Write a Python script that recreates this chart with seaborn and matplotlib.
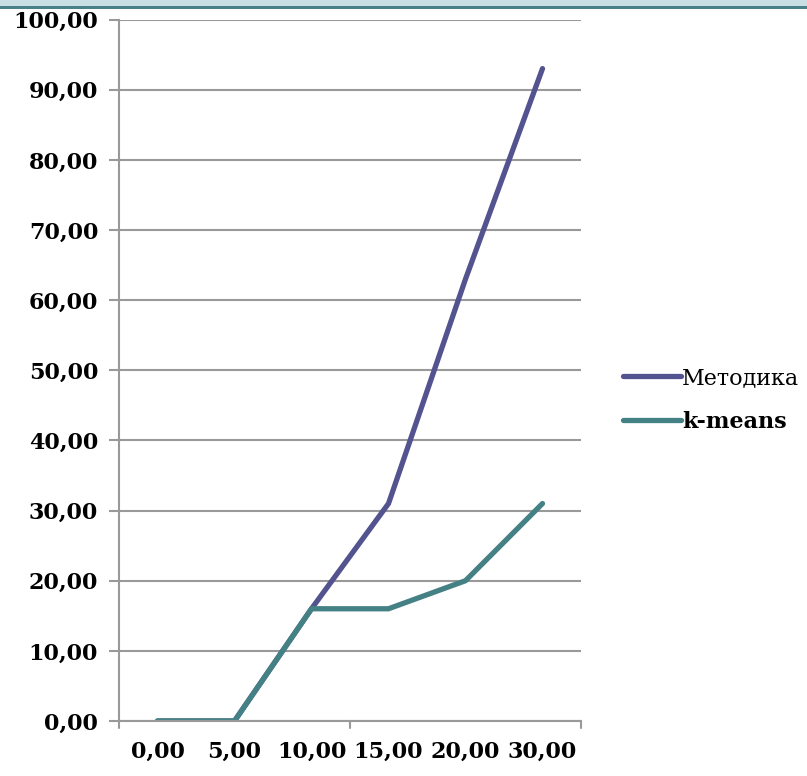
import matplotlib
matplotlib.use('Agg')
import matplotlib.pyplot as plt
import seaborn as sns
import pandas as pd
import numpy as np

# data
categories = ["0,00", "5,00", "10,00", "15,00", "20,00", "30,00"]
metodika = [0, 0, 16, 31, 63, 93]
kmeans = [0, 0, 16, 16, 20, 31]
series_names = ["Методика", "k-means"]
y_ticks = [0, 10, 20, 30, 40, 50, 60, 70, 80, 90, 100]

colors = ["#53548f", "#448185"]

df = pd.DataFrame({"x": np.arange(len(categories)), series_names[0]: metodika, series_names[1]: kmeans})
long = df.melt(id_vars="x", var_name="series", value_name="value")

sns.set_theme(style='white')
plt.rcParams['font.family'] = ['DejaVu Serif']
plt.rcParams['text.color'] = 'black'

fig = plt.figure(figsize=(8.07, 7.76), dpi=100)
ax = fig.add_axes([119 / 807, 1 - 721 / 776, (581 - 119) / 807, (721 - 19.5) / 776])

# y gridlines (drawn behind lines)
for v in y_ticks:
    ax.axhline(v, color='#999999', lw=1.5, zorder=0)

sns.lineplot(data=long, x="x", y="value", hue="series", palette=colors, linewidth=3.8,
             ax=ax, legend=False, solid_capstyle='round', solid_joinstyle='miter')

ax.set_xlim(-0.5, len(categories) - 0.5)
ax.set_ylim(0, 100)
ax.set_yticks(y_ticks)
ax.set_yticklabels([f"{v:.2f}".replace('.', ',') for v in y_ticks], fontsize=16,
                   fontweight='bold', color='black')
ax.set_xticks(np.arange(len(categories)))
ax.set_xticklabels(categories, fontsize=16, fontweight='bold', color='black')
ax.tick_params(axis='x', length=0, pad=14)
ax.tick_params(axis='y', length=7, width=1.5, color='#999999', left=True, pad=8)
# category boundary tick marks (every third, as in the original)
for b in [-0.5, 2.5, 5.5]:
    ax.plot([b, b], [0, -1.0], color='#999999', lw=1.5, clip_on=False)

ax.set_xlabel("")
ax.set_ylabel("")
for s in ['top', 'right']:
    ax.spines[s].set_visible(False)
for s in ['left', 'bottom']:
    ax.spines[s].set_color('#999999')
    ax.spines[s].set_linewidth(1.5)

# legend
from matplotlib.lines import Line2D
handles = [Line2D([0], [0], color=c, lw=3.8, solid_capstyle='round') for c in colors]
leg = fig.legend(handles, series_names, loc='center left', bbox_to_anchor=(603 / 807, 1 - 400 / 776),
                 frameon=False, fontsize=16, handlelength=2.6, handletextpad=0.05, labelspacing=1.0)
for t in leg.get_texts():
    t.set_color('black')
leg.get_texts()[1].set_fontweight('bold')

# top banner strip
fig.patches.append(plt.Rectangle((0, 1 - 6 / 776), 1, 6 / 776, transform=fig.transFigure,
                                 facecolor='#c8e0e3', edgecolor='none'))
fig.patches.append(plt.Rectangle((0, 1 - 8.5 / 776), 1, 3 / 776, transform=fig.transFigure,
                                 facecolor='#4a8089', edgecolor='none'))

fig.savefig("out.png", dpi=100)
